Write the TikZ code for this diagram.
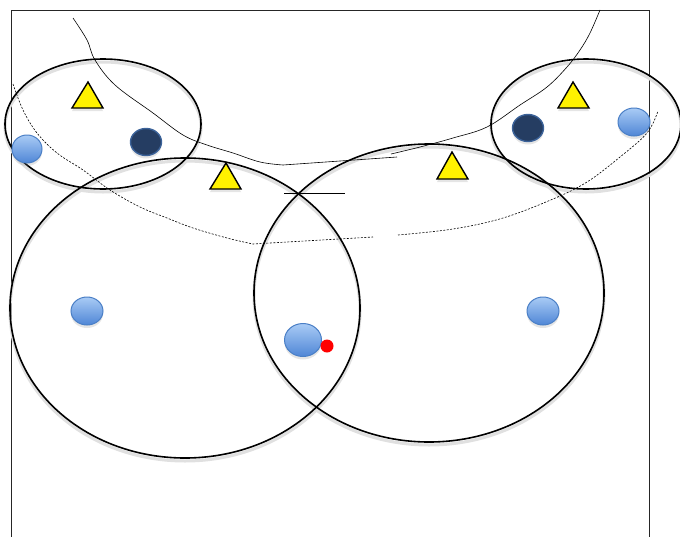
\documentclass[tikz,border=0pt]{standalone}
\usetikzlibrary{shadows}
\definecolor{ballborder}{HTML}{4A7FC6}
\definecolor{balltop}{HTML}{A9CBF5}
\definecolor{ballbot}{HTML}{4F86D6}
\definecolor{darkball}{HTML}{253D62}
\definecolor{darkborder}{HTML}{3B6299}
\tikzset{
  zoneshadow/.style={draw=black!12, line width=3pt},
  zone/.style={draw=black, line width=1.6pt},
  ball/.style={draw=ballborder, line width=1pt, top color=balltop, bottom color=ballbot, drop shadow={opacity=0.2, shadow xshift=0pt, shadow yshift=-3pt}},
  darkb/.style={draw=darkborder, line width=1.4pt, fill=darkball, drop shadow={opacity=0.2, shadow xshift=0pt, shadow yshift=-3pt}},
  cone/.style={draw=black, line width=1.4pt, fill=yellow, line join=miter, drop shadow={opacity=0.2, shadow xshift=0pt, shadow yshift=-3pt}},
  path/.style={draw=black, line width=0.6pt},
  dpath/.style={draw=black, line width=0.6pt, dash pattern=on 2pt off 1.5pt},
}
\begin{document}
\begin{tikzpicture}[x=1pt,y=-1pt]
\useasboundingbox (0,0) rectangle (680,536);
\fill[white] (0,0) rectangle (680,536);
% frame
\draw[line width=0.9pt, black!85] (11,545) -- (11,10) -- (649,10) -- (649,545);
% zone shadows
\draw[zoneshadow] (103,127) ellipse [x radius=98, y radius=65];
\draw[zoneshadow] (586,127) ellipse [x radius=95, y radius=65];
\draw[zoneshadow] (185,311) ellipse [x radius=175, y radius=150];
\draw[zoneshadow] (429,296) ellipse [x radius=175, y radius=149];
% zones
\draw[zone] (103,124) ellipse [x radius=98, y radius=65];
\draw[zone] (586,124) ellipse [x radius=95, y radius=65];
\draw[zone] (185,308) ellipse [x radius=175, y radius=150];
\draw[zone] (429,293) ellipse [x radius=175, y radius=149];
% solid curve (left part)
\draw[path] plot[smooth, tension=0.6] coordinates {(73,18) (87,40) (95,60) (115,85) (153,113) (183,135) (207,145) (233,153) (260,162) (283,165)} -- (397,157);
% solid curve (right part)
\draw[path] plot[smooth, tension=0.6] coordinates {(391,154) (420,147) (453,138) (487,127) (520,105) (547,87) (567,67) (580,50) (590,33) (600,10)};
\draw[path] (284,193) -- (345,193);
% dashed curve
\draw[dpath] plot[smooth, tension=0.6] coordinates {(13,84) (23,110) (37,133) (57,153) (83,170) (110,190) (140,207) (167,218) (193,228) (227,238) (253,244)} -- (373,237);
\draw[dpath] plot[smooth, tension=0.6] coordinates {(398,235) (453,229) (503,218) (553,199) (587,182) (620,157) (647,133) (658,111)};
% cones
\draw[cone] (88,82) -- (103,108) -- (72,108) -- cycle;
\draw[cone] (226,163) -- (241,189) -- (210,189) -- cycle;
\draw[cone] (452,152) -- (468,179) -- (437,179) -- cycle;
\draw[cone] (573,82) -- (589,108) -- (558,108) -- cycle;
% players
\draw[ball] (27,149) ellipse [x radius=15, y radius=14];
\draw[ball] (634,122) ellipse [x radius=16, y radius=14];
\draw[ball] (87,311) ellipse [x radius=16, y radius=14];
\draw[ball] (543,311) ellipse [x radius=16, y radius=14];
\draw[ball] (303,340) ellipse [x radius=18.5, y radius=16.5];
\draw[darkb] (146,142) ellipse [x radius=15.5, y radius=13.5];
\draw[darkb] (528,128) ellipse [x radius=15.5, y radius=13.5];
% ball
\fill[red] (327,346) circle [radius=6.5];
\end{tikzpicture}
\end{document}
